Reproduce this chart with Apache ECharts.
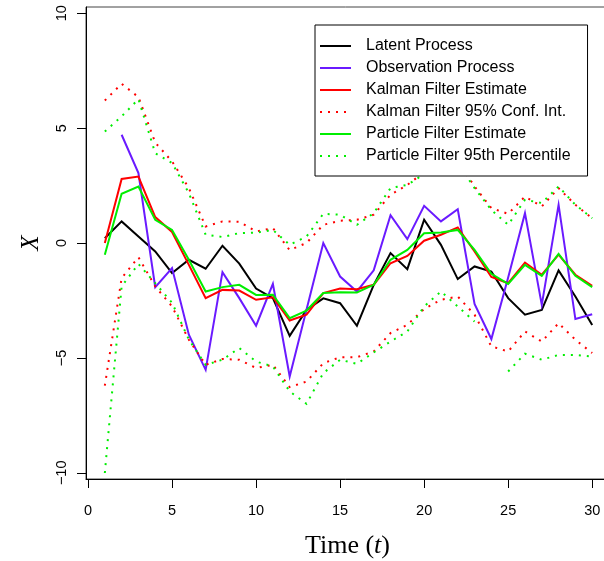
<!DOCTYPE html>
<html>
<head>
<meta charset="utf-8">
<script src="https://cdn.jsdelivr.net/npm/echarts@6/dist/echarts.min.js"></script>
<style>
  html, body { margin: 0; padding: 0; background: #fff; }
  #chart { width: 604px; height: 561px; }
</style>
</head>
<body>
<div id="chart"></div>
<script>
// Time index of the simulated state-space model
const timeSteps = [1, 2, 3, 4, 5, 6, 7, 8, 9, 10, 11, 12, 13, 14, 15,
                   16, 17, 18, 19, 20, 21, 22, 23, 24, 25, 26, 27, 28, 29, 30];

// Hidden state X_t
const latentProcess = [0.21, 0.94, 0.28, -0.37, -1.31, -0.73, -1.12, -0.12, -0.90, -1.98,
                       -2.40, -4.04, -2.91, -2.41, -2.62, -3.60, -1.82, -0.44, -1.14, 1.01,
                       -0.08, -1.57, -1.02, -1.24, -2.40, -3.12, -2.91, -1.19, -2.33, -3.57];

// Noisy observations Y_t (first step unobserved)
const observationProcess = [null, 4.71, 3.04, -1.92, -1.09, -3.99, -5.52, -1.27, -2.40, -3.60,
                            -1.78, -5.81, -2.90, 0.00, -1.46, -2.11, -1.19, 1.21, 0.17, 1.62,
                            0.94, 1.47, -2.65, -4.18, -1.50, 1.30, -2.69, 1.66, -3.31, -3.10];

// Kalman filter mean and 95% interval
const kalmanEstimate = [0.00, 2.79, 2.89, 1.13, 0.48, -0.95, -2.40, -2.04, -2.07, -2.47,
                        -2.36, -3.37, -3.12, -2.18, -1.98, -2.01, -1.82, -0.88, -0.56, 0.10,
                        0.36, 0.68, -0.37, -1.48, -1.75, -0.85, -1.38, -0.51, -1.38, -1.86];
const kalmanUpper = [6.20, 6.93, 6.35, 4.37, 3.55, 2.39, 0.72, 0.94, 0.92, 0.50,
                     0.65, -0.31, 0.00, 0.79, 0.97, 1.01, 1.23, 2.10, 2.53, 3.08,
                     3.33, 3.59, 2.46, 1.52, 1.27, 2.02, 1.59, 2.39, 1.66, 1.08];
const kalmanLower = [-6.21, -1.53, -0.62, -1.89, -2.76, -4.21, -5.30, -5.05, -5.08, -5.44,
                     -5.30, -6.27, -6.03, -5.23, -4.97, -4.97, -4.72, -3.92, -3.56, -2.87,
                     -2.47, -2.33, -3.12, -4.50, -4.72, -3.85, -4.29, -3.49, -4.21, -4.79];

// Particle filter mean and 2.5th / 97.5th percentiles
const particleEstimate = [-0.51, 2.14, 2.46, 1.01, 0.57, -0.73, -2.11, -1.92, -1.82, -2.26,
                          -2.25, -3.27, -2.94, -2.18, -2.14, -2.15, -1.82, -0.73, -0.30, 0.42,
                          0.46, 0.57, -0.30, -1.34, -1.78, -0.95, -1.43, -0.47, -1.43, -1.92];
const particleUpper = [4.85, 5.51, 6.26, 3.91, 3.48, 2.17, 0.36, 0.26, 0.43, 0.45,
                       0.57, -0.08, 0.28, 1.27, 1.23, 0.79, 1.30, 2.39, 2.53, 3.00,
                       3.19, 3.48, 2.39, 1.44, 0.79, 1.88, 1.74, 2.46, 1.66, 1.08];
const particleLower = [-10.01, -1.89, -0.91, -1.75, -2.60, -4.20, -5.30, -5.08, -4.57, -5.16,
                       -5.37, -6.46, -7.00, -5.66, -5.08, -5.26, -4.76, -4.29, -3.85, -2.76,
                       -2.11, -2.76, -3.42, null, -5.59, -4.82, -5.08, -4.87, -4.87, -4.94];

const xTicks = [0, 5, 10, 15, 20, 25, 30];
const yTicks = [-10, -5, 0, 5, 10];

const NAMES = {
  latent: 'Latent Process',
  obs: 'Observation Process',
  kf: 'Kalman Filter Estimate',
  kfCI: 'Kalman Filter 95% Conf. Int.',
  pf: 'Particle Filter Estimate',
  pfCI: 'Particle Filter 95th Percentile'
};

const COLORS = { black: '#000000', purple: '#6a1aff', red: '#ff0000', green: '#00ee00' };
const DOTTED = [2, 6];

function pairs(values) {
  return timeSteps.map((t, i) => [t, values[i]]);
}

function lineSeries(name, values, color, dotted) {
  return {
    name: name,
    type: 'line',
    data: pairs(values),
    symbol: 'none',
    connectNulls: false,
    itemStyle: { color: color },
    lineStyle: { color: color, width: 2, type: dotted ? DOTTED : 'solid', cap: 'butt', join: 'miter' },
    emphasis: { disabled: true },
    animation: false
  };
}

const chart = echarts.init(document.getElementById('chart'), null, { renderer: 'canvas' });

const axisLine = { show: true, onZero: false, lineStyle: { color: '#000', width: 1 } };
const axisTick = { show: true, length: 9, lineStyle: { color: '#000', width: 1 } };

chart.setOption({
  backgroundColor: '#ffffff',
  animation: false,
  grid: {
    left: 86, top: 7, bottom: 82, right: -5,
    outerBoundsMode: 'none',
    containLabel: false,
    show: true, borderColor: '#444', borderWidth: 1, backgroundColor: 'transparent'
  },
  xAxis: {
    type: 'value',
    min: -0.12, max: 31,
    axisLine: axisLine,
    axisTick: Object.assign({ customValues: xTicks }, axisTick),
    axisLabel: {
      customValues: xTicks, margin: 24, color: '#000',
      fontFamily: 'Liberation Sans', fontSize: 14.5
    },
    splitLine: { show: false },
    name: '{r|Time (}{i|t}{r|)}',
    nameLocation: 'middle',
    nameGap: 54,
    nameTextStyle: {
      rich: {
        r: { fontFamily: 'Liberation Serif', fontSize: 26, color: '#000' },
        i: { fontFamily: 'Liberation Serif', fontStyle: 'italic', fontSize: 26, color: '#000' }
      }
    }
  },
  yAxis: {
    type: 'value',
    min: -10.27, max: 10.27,
    axisLine: axisLine,
    axisTick: Object.assign({ customValues: yTicks }, axisTick),
    axisLabel: {
      customValues: yTicks, rotate: 90, margin: 17, color: '#000',
      fontFamily: 'Liberation Sans', fontSize: 14.5,
      formatter: v => (v < 0 ? '\u2212' + Math.abs(v) : String(v))
    },
    splitLine: { show: false },
    name: 'X',
    nameLocation: 'middle',
    nameGap: 42,
    nameTextStyle: {
      fontFamily: 'Liberation Serif', fontStyle: 'italic', fontSize: 25, color: '#000'
    }
  },
  legend: {
    orient: 'vertical',
    left: 315, top: 25,
    padding: [13, 17, 12, 4],
    itemGap: 6,
    itemWidth: 31,
    itemHeight: 14,
    borderColor: '#000',
    borderWidth: 1,
    borderRadius: 0,
    backgroundColor: '#fff',
    selectedMode: false,
    itemStyle: { opacity: 0 },
    textStyle: { fontFamily: 'Liberation Sans', fontSize: 16, color: '#000', padding: [0, 0, 0, 10] },
    data: [NAMES.latent, NAMES.obs, NAMES.kf, NAMES.kfCI, NAMES.pf, NAMES.pfCI]
  },
  series: [
    lineSeries(NAMES.latent, latentProcess, COLORS.black, false),
    lineSeries(NAMES.obs, observationProcess, COLORS.purple, false),
    lineSeries(NAMES.kf, kalmanEstimate, COLORS.red, false),
    lineSeries(NAMES.kfCI, kalmanUpper, COLORS.red, true),
    lineSeries(NAMES.kfCI, kalmanLower, COLORS.red, true),
    lineSeries(NAMES.pf, particleEstimate, COLORS.green, false),
    lineSeries(NAMES.pfCI, particleUpper, COLORS.green, true),
    lineSeries(NAMES.pfCI, particleLower, COLORS.green, true)
  ]
});
</script>
</body>
</html>
